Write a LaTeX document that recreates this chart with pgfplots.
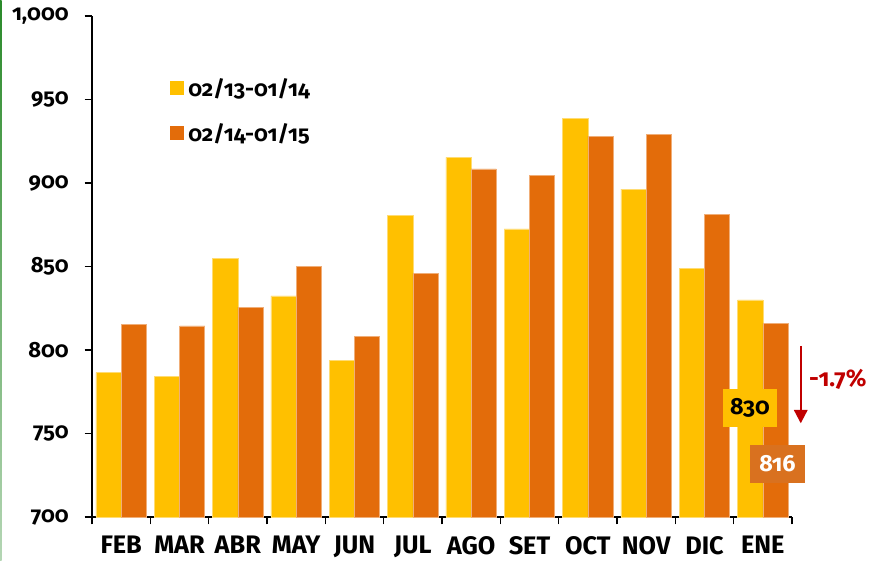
\documentclass[border=0pt]{standalone}
\usepackage{pgfplots}
\pgfplotsset{compat=1.18}
\usetikzlibrary{arrows.meta}
\usepackage{fontspec}
\setmainfont{Fira Sans}[Numbers=OldStyle]
\definecolor{cYel}{HTML}{FFC000}
\definecolor{cOra}{HTML}{E36C0A}
\definecolor{cBox}{HTML}{D9711F}
\definecolor{cRed}{HTML}{C00000}
\definecolor{cGreen}{HTML}{2A8A2A}
\begin{document}
\begin{tikzpicture}
\begin{axis}[
  at={(0,0)}, anchor=south west,
  scale only axis, width=525pt, height=375.75pt,
  xmin=-0.5, xmax=11.5, ymin=700, ymax=1000,
  axis x line*=bottom, axis y line*=left,
  axis line style={line width=1.4pt, black},
  ytick={700,750,...,1000},
  xtick={0,...,11},
  xticklabels={FEB,MAR,ABR,MAY,JUN,JUL,AGO,SET,OCT,NOV,DIC,ENE},
  minor xtick={-0.5,0.5,...,11.5},
  major x tick style={draw=none},
  tick align=outside,
  major tick length=5.5pt, minor tick length=5.5pt,
  tick style={line width=1.2pt, black},
  /pgf/number format/assume math mode=true,
  /pgf/number format/1000 sep={,},
  yticklabel style={font=\fontsize{16.5}{16.5}\selectfont\bfseries, xshift=-8.5pt},
  xticklabel style={font=\fontsize{19}{19}\selectfont\bfseries, yshift=-5.5pt, anchor=north},
  ybar=0pt, bar width=0.434,
  clip=false,
  legend style={at={(0.106,0.882)}, anchor=north west, draw=none, fill=none,
    font=\fontsize{16.5}{16.5}\selectfont\bfseries, row sep=19pt,
    nodes={inner xsep=3pt, inner ysep=0pt}},
  legend cell align=left,
  legend image code/.code={\path[#1,draw=none] (0pt,-5.25pt) rectangle (10.5pt,5.25pt);},
]
\addplot[fill=cYel, draw=cYel!55!white, line width=0.5pt, bar shift=-0.217] coordinates {
 (0,786.4) (1,784.2) (2,855) (3,832.4) (4,794) (5,880.4) (6,915.4) (7,872.5) (8,938.9) (9,896.4) (10,848.9) (11,830)};
\addplot[fill=cOra, draw=cOra!55!white, line width=0.5pt, bar shift=0.217] coordinates {
 (0,815.4) (1,814.4) (2,825.6) (3,850.2) (4,808) (5,845.9) (6,908.4) (7,904.6) (8,928) (9,928.9) (10,881.4) (11,816)};
\legend{02/13-01/14, 02/14-01/15}
\node[fill=cYel, minimum width=40pt, minimum height=28pt, inner sep=0pt,
  font=\fontsize{17.5}{17.5}\selectfont\bfseries] at (axis cs:10.78,765.3) {830};
\node[fill=cBox, text=white, minimum width=41pt, minimum height=28pt, inner sep=0pt,
  font=\fontsize{17.5}{17.5}\selectfont\bfseries] at (axis cs:11.25,731.7) {816};
\draw[cRed, line width=1.6pt, -{Triangle[length=10pt,width=10pt]}] (axis cs:11.65,802.4) -- (axis cs:11.65,756.1);
\node[text=cRed, anchor=west, inner sep=0pt, font=\fontsize{18}{18}\selectfont\bfseries] at (axis cs:11.79,782.6) {-1.7\%};
\end{axis}
\shade[top color=cGreen, bottom color=cGreen!35!white] (-69pt,-32.25pt) rectangle (-67.8pt,387.75pt);
\pgfresetboundingbox
\path (-69pt,-32.25pt) rectangle (583.5pt,387.75pt);
\end{tikzpicture}
\end{document}
